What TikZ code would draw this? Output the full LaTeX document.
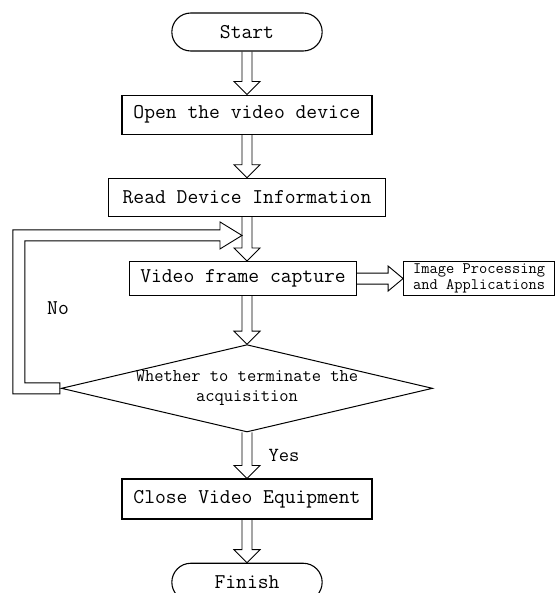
\documentclass[tikz,border=0pt]{standalone}
\usepackage{tikz}
\usetikzlibrary{shapes.geometric, shapes.misc, positioning, calc}
\tikzset{
    hlen/.store in=\hlen, hlen=13pt,
    hwid/.store in=\hwid, hwid=13pt,
    swid/.store in=\swid, swid=5pt
}
\tikzstyle{term} = [
    rounded rectangle,
    minimum width=157pt,
    minimum height=38pt,
    draw,
    line width=1.1pt,
    font=\fontsize{21}{24}\selectfont\ttfamily
]
\tikzstyle{process} = [
    rectangle,
    minimum width=250pt,
    minimum height=39pt,
    inner sep=2pt,
    draw,
    line width=1.2pt,
    font=\fontsize{21}{24}\selectfont\ttfamily
]
\tikzstyle{decision} = [
    diamond,
    minimum width=370pt,
    minimum height=87pt,
    inner sep=0pt,
    shape aspect=4.25,
    align=center,
    draw,
    line width=1pt,
    font=\fontsize{18}{20}\selectfont\ttfamily
]
\tikzstyle{hollow} = [
    line width=0.9pt,
    line join=miter,
    to path={($(\tikztotarget)!\hlen!(\tikztostart)$) coordinate (hb)
        ($(\tikztostart)!\swid!90:(\tikztotarget)$) -- ($(hb)!\swid!-90:(\tikztostart)$)
        -- ($(hb)!\hwid!-90:(\tikztostart)$) -- (\tikztotarget)
        -- ($(hb)!\hwid!90:(\tikztostart)$) -- ($(hb)!\swid!90:(\tikztostart)$)
        -- ($(\tikztostart)!\swid!-90:(\tikztotarget)$)}
]
\tikzstyle{tag} = [font=\fontsize{20}{24}\selectfont\ttfamily]

\begin{document}
\begin{tikzpicture}[x=1pt, y=1pt]
        \fill[white] (0,0) rectangle (555,-593);
        \useasboundingbox (0,0) rectangle (555,-593);

        \node[term] (start) at (247,-32) {Start};
        \node[process, below=43pt of start] (open) {Open the video device};
        \node[process, minimum width=277pt, minimum height=38pt, below=43pt of open] (read) {Read Device Information};
        \node[process, minimum width=227pt, minimum height=34pt, below=44pt of read, xshift=-4pt] (video) {Video frame capture};
        \node[process, minimum width=151pt, minimum height=34pt, line width=1pt, align=center,
              font=\fontsize{16}{16}\selectfont\ttfamily, right=46pt of video] (image) {Image Processing\\and Applications};
        \node[decision, below=48pt of video, xshift=4pt] (ask) {Whether to terminate the\\acquisition};
        \node[process, minimum height=40pt, below=46pt of ask] (close) {Close Video Equipment};
        \node[term, below=43pt of close] (finish) {Finish};

        \draw[hollow] (start.south) to (open.north);
        \draw[hollow] (open.south) to (read.north);
        \draw[hollow] (read.south) to (read.south |- video.north);
        \draw[hollow, hlen=15pt, hwid=12.5pt, swid=5.5pt] (video.east) to (image.west);
        \draw[hollow] (video.south -| ask.north) to (ask.north);
        \draw[hollow] (ask.south) to (close.north);
        \draw[hollow] (close.south) to (finish.north);

        \coordinate (tip) at ($(read.south)+(-5,-18.5)$);
        \coordinate (lp) at ($(ask.west)+(-42,0)$);
        \draw[line width=0.9pt, line join=miter]
            ($(ask.west)+(-1,5.5)$) -- ($(lp)+(6,5.5)$) -- ($(lp |- tip)+(6,-5.5)$)
            -- ($(tip)+(-22,-5.5)$) -- ($(tip)+(-22,-13.5)$) -- (tip)
            -- ($(tip)+(-22,13.5)$) -- ($(tip)+(-22,5.5)$) -- ($(lp |- tip)+(-6,5.5)$)
            -- ($(lp)+(-6,-5.5)$) -- ($(ask.west)+(-1,-5.5)$) -- cycle;

        \node[tag, font=\fontsize{21}{24}\selectfont\ttfamily] (no) at (58,-308) {No};
        \node[tag, right=18pt] (yes) at ($(ask.south)!0.5!(close.north)$) {Yes};
    \end{tikzpicture}
\end{document}
